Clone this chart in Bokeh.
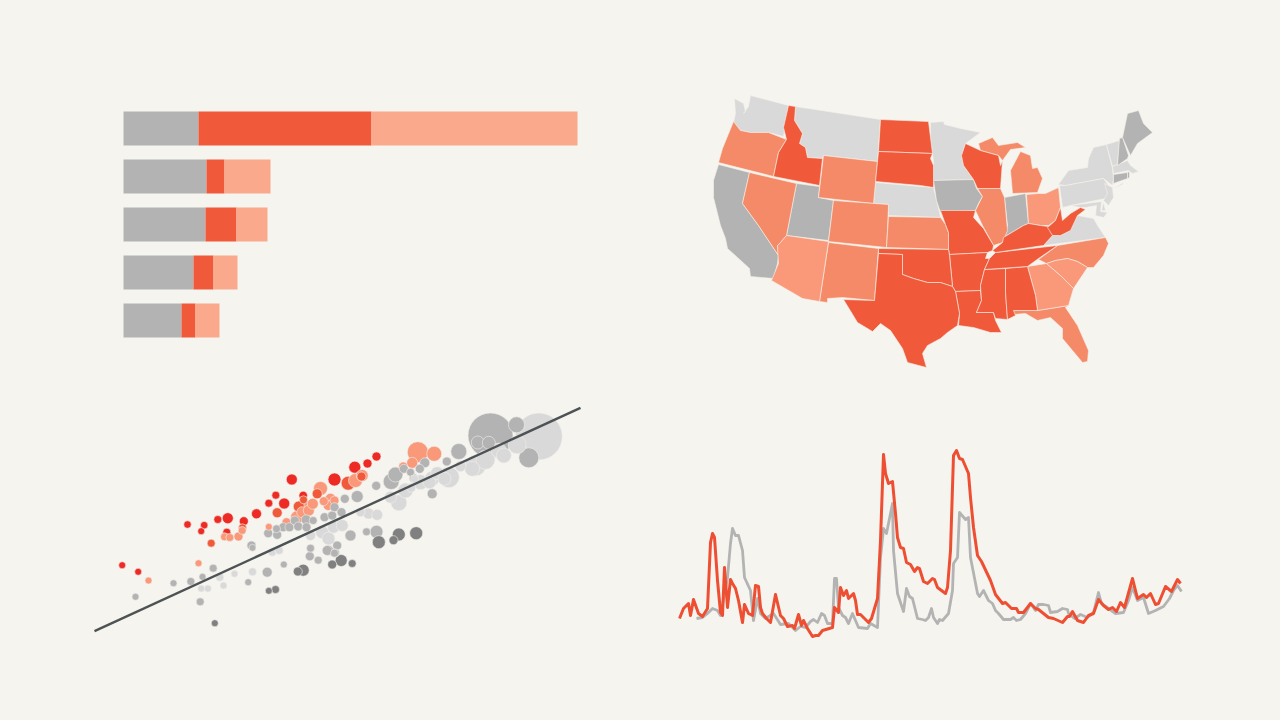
from bokeh.plotting import figure
from bokeh.layouts import column, row
from bokeh.models import Range1d, ColumnDataSource
from bokeh.embed import file_html
from bokeh.resources import INLINE

BG = "#f5f4ef"
GRAY = "#b3b3b3"
RED = "#f05a3a"
PEACH = "#faa98c"
MID = "#f58a68"
LSALMON = "#f9997a"
LIGHT = "#d9d9d9"
DARK = "#808080"
VIVID = "#ee2a24"
LINE_RED = "#ee4f33"
TREND = "#4d5355"

# ---- stacked bars
bar_rank = [1, 2, 3, 4, 5]
bar_gray = [75, 83, 82, 70, 58]
bar_red = [173, 18, 31, 20, 14]
bar_peach = [206, 46, 31, 24, 24]

# ---- map outlines
WA = [(734,98),(743,103),(745,111),(743,113),(748,106),(750,95),(788,105),(783,136),(768,132),(750,132),(740,130),(733,122),(735,113)]
OR = [(733,121),(740,130),(750,132),(768,132),(786,139),(778,152),(773,176),(718,162),(722,148)]
ID = [(788,105),(795,106),(794,120),(802,133),(799,143),(805,147),(807,157),(822,158),(819,185),(773,176),(778,152),(786,139),(783,127)]
MT = [(795,106),(880,119),(877,161),(823,155),(822,158),(807,157),(805,147),(799,143),(802,133),(794,120)]
WY = [(823,155),(877,161),(873,203),(818,197)]
ND = [(880,119),(928,121),(932,153),(878,151)]
SD = [(878,151),(932,153),(930,158),(933,165),(933,187),(920,185),(875,181)]
NE = [(875,182),(920,186),(933,187),(939,212),(940,217),(888,215),(888,204),(873,203)]
NV = [(749,172),(796,183),(786,235),(780,242),(777,245),(778,255),(758,225),(742,203)]
CA = [(718,164),(749,172),(742,203),(758,225),(778,255),(777,263),(773,278),(750,276),(749,268),(737,257),(727,248),(725,238),(720,225),(713,197),(713,180)]
UT = [(796,183),(819,186),(818,197),(833,200),(828,240),(786,235)]
CO = [(833,200),(888,204),(887,230),(886,247),(828,241)]
AZ = [(786,235),(828,241),(819,301),(802,298),(771,280),(778,263),(777,245),(780,242)]
NM = [(828,242),(878,248),(874,300),(842,297),(827,298),(827,302),(819,301)]
TX = [(878,253),(902,254),(902,274),(913,278),(927,282),(940,282),(952,286),(955,291),(959,313),(957,325),(947,332),(940,338),(927,345),(922,353),(926,367),(907,362),(902,348),(890,330),(880,323),(872,331),(857,322),(843,299),(874,300)]
OK = [(878,248),(948,249),(949,255),(952,286),(940,282),(927,282),(913,278),(902,274),(902,254),(878,253)]
KS = [(888,216),(940,217),(945,224),(948,232),(948,249),(886,247)]
IA = [(933,180),(973,179),(976,188),(982,196),(978,203),(975,210),(940,212),(936,200)]
MN = [(930,122),(943,121),(944,124),(960,128),(980,132),(965,143),(962,153),(963,165),(973,179),(933,180),(933,160),(930,140)]
WI = [(965,143),(980,150),(998,155),(1000,165),(1002,160),(1000,188),(977,188),(973,179),(963,165),(961,155)]
MI_N = [(978,143),(992,137),(998,145),(1017,142),(1025,147),(1010,149),(1002,160),(998,155),(980,150)]
MI_S = [(1020,151),(1030,155),(1032,168),(1037,167),(1042,178),(1037,192),(1012,193),(1010,170)]
IL = [(977,188),(1000,188),(1004,197),(1007,230),(1002,242),(993,245),(982,225),(975,210),(982,196)]
IN = [(1004,197),(1025,193),(1028,223),(1023,225),(1003,237),(1007,225)]
OH = [(1026,194),(1038,193),(1045,193),(1058,187),(1060,207),(1055,220),(1048,225),(1040,225),(1028,223)]
KY = [(992,250),(1002,242),(1003,237),(1023,225),(1028,223),(1040,225),(1048,226),(1052,235),(1043,245),(995,252)]
WV = [(1060,207),(1062,220),(1070,213),(1080,207),(1085,209),(1077,215),(1070,230),(1060,235),(1052,235),(1047,227),(1055,220)]
VA = [(1043,245),(1052,235),(1060,235),(1070,225),(1077,215),(1093,218),(1097,225),(1105,237)]
TN = [(995,252),(1057,245),(1038,258),(1027,266),(984,269),(989,258),(992,255)]
NC = [(1057,245),(1105,237),(1108,243),(1103,255),(1093,267),(1087,267),(1077,261),(1067,258),(1055,260),(1046,263),(1038,259)]
SC = [(1046,263),(1055,260),(1067,258),(1077,261),(1087,267),(1073,288),(1060,275)]
GA = [(1027,266),(1046,263),(1060,275),(1073,288),(1068,305),(1037,310),(1035,295)]
AL = [(1005,268),(1027,266),(1035,295),(1037,310),(1013,310),(1015,315),(1007,319),(1005,292)]
MS = [(984,269),(1005,268),(1005,292),(1007,319),(995,318),(993,312),(976,312),(981,300),(980,285)]
LA = [(955,291),(980,290),(981,300),(976,312),(993,312),(995,320),(1001,332),(990,332),(973,327),(958,325),(959,313)]
AR = [(949,254),(987,252),(985,258),(989,258),(984,269),(980,285),(980,290),(955,291),(952,286)]
MO = [(940,210),(975,210),(973,217),(983,228),(993,245),(992,250),(987,252),(949,254),(948,249),(948,232),(945,224)]
FL = [(1013,310),(1037,310),(1068,305),(1065,307),(1077,325),(1088,350),(1087,361),(1082,362),(1072,350),(1062,338),(1062,328),(1050,317),(1037,320),(1025,313),(1013,314)]
NY = [(1058,184),(1068,170),(1087,167),(1088,158),(1093,147),(1106,144),(1112,168),(1113,178),(1112,185),(1103,178),(1065,185)]
NY_LI = [(1113,188),(1123,182),(1122,184)]
VT = [(1106,144),(1119,140),(1117,164),(1112,166)]
NH = [(1119,138),(1122,137),(1128,155),(1127,158),(1117,165)]
ME = [(1122,137),(1127,113),(1138,110),(1143,123),(1152,132),(1137,143),(1130,155)]
MA = [(1112,166),(1127,160),(1130,165),(1138,171),(1132,173),(1128,170),(1113,173)]
CT = [(1113,174),(1127,172),(1127,178),(1113,183)]
RI = [(1127,172),(1129,171),(1129,177),(1127,178)]
PA = [(1059,185),(1065,185),(1103,178),(1110,188),(1105,198),(1070,205),(1062,207)]
NJ = [(1104,183),(1112,187),(1113,197),(1108,205),(1103,200),(1107,193)]
DE = [(1103,202),(1105,210),(1101,210)]
MD = [(1070,205),(1101,201),(1100,211),(1107,212),(1103,217),(1095,215),(1096,205),(1085,207),(1080,207)]

states_light = [WA, MT, NE, MN, NY, NY_LI, VT, MA, PA, NJ, DE, MD, VA]
states_gray = [CA, UT, IA, IN, ME, NH, CT, RI]
states_red = [ID, ND, SD, WI, MO, AR, LA, MS, AL, TN, KY, WV, OK, TX]
states_mid = [OR, NV, WY, CO, NM, KS, IL, MI_N, MI_S, NC, FL]
states_salmon = [AZ, OH, GA, SC]

# ---- scatter: x, y, diameter by group
vivid_x = [121.7,137.7,187,203.7,200.7,217.3,227.3,243.3,226.3,256,268.3,275.3,283.7,291.3,302.7,334,354.3,367,376]
vivid_y = [564.7,571.3,524,524.7,530.7,519,517.7,520.7,531.7,513.3,502.7,494.7,503,479,495,479,466.7,463,456]
vivid_d = [6,6,6.5,6.5,6,7,10,8,7,9,7,7,10,10,7.5,12,11,8,8]

orange_x = [210.7,276.7,298.3,303,242,316.7,347.7,361]
orange_y = [542.7,512.3,506,499.3,527.3,493.3,482.7,476]
orange_d = [7,9,10,7,7,9,13,8]

salmon_x = [148,198,224,229.3,238,241.7,268.3,286,296.7,301.7,305,308.3,312.3,320,323.3,327.7,330,334,355,361.7,417.3,433.7,411.7,402.7]
salmon_y = [580,562.7,536.3,537,536,530,526.3,521.7,516.7,511.7,506.7,510,503.3,488,500.7,505,498.3,500,480,475,451.7,453.3,462.3,466]
salmon_d = [6,6,7,7,8,7,6,8,12,10,12,10,10,13,8,9,10,8,13,11,20,14,10,8]

gray_x = [135,173,190.3,202,212.7,199.7,247.7,266.7,283.3,251,252,267.7,276.7,276,282.7,289,294.3,297.7,306,305.7,312.7,324,331.7,334,341,310,309.3,317.7,328.3,335,336.7,344.3,356.7,375.7,390.7,395,403.3,410,419.3,424.3,413.3,446.3,458.3,431.7,490,516,528.3,350,366,376,326.7,334,477.3,488.3]
gray_y = [596.3,582.7,581,576.3,567.7,601.3,581.7,571.7,564,545,547.3,532.7,534.3,528.3,526.7,526.7,520,526,526.7,519.3,520,516.7,515,506.7,511.7,547.7,555.7,559.7,550,552.3,545,498.3,496,485.3,481,474,468.3,471.7,468.3,462.3,477.7,461,451,493.3,435,424.3,457.3,535,531.3,531.3,550,552.7,442,442.3]
gray_d = [6,6,7,6,7,7,6,9,6,8,6,8,8,7,8,8,8,8,8,9,7,8,8,8,8,7,8,7,9,7,8,8,11,8,15,14,8,7,8,9,8,8,15,9,44,15,19,10,7,12,9,7,12,12]

dark_x = [214.3,268.3,275,297.3,302.7,331.7,340.7,351.7,378.3,393,398.3,415.7]
dark_y = [622.7,590.3,589,571,569.7,564,560,563,541.7,539.7,534,532.7]
dark_d = [6,6,7,8,11,8,11,7,12,8,12,12]

light_x = [200.7,207.3,223,219.3,234,252,271.7,278.7,310,321.7,328,333,341.7,360,368,376.7,390,398.3,405,410.7,420,429,431.7,436.7,444,448.3,460,471.7,475,485,498.3,503.3,516.7,538.3,414]
light_y = [588,588,585,576.7,573.3,571.3,551.7,550,535,531.7,538,526.7,525,511.7,513,514.3,496.7,502.3,490,487.3,481.7,481.7,478,472.7,478.3,476.7,465.7,468.3,465,459.3,450,455,444.3,436,478.3]
light_d = [6,6,6,7,6,7,7,7,9,12,12,11,11,8,10,10,11,15,14,8,14,12,14,12,12,20,10,14,20,18,14,14,17,46,7]

trend_x = [94, 580]
trend_y = [630.7, 407.3]

# ---- time series
red_x = [679,683,688,690,693,698,702,707,710,712,714,717,720,722,724,727,730,732,735,738,742,744,748,752,755,758,760,762,766,770,775,780,783,787,792,794,798,801,803,807,812,815,818,822,832,834,838,840,843,846,848,853,855,857,860,865,868,871,877,880,883,885,888,892,895,897,900,903,906,910,914,917,919,923,927,932,934,937,945,947,950,953,956,959,962,968,970,973,977,981,990,995,1002,1005,1011,1016,1018,1023,1030,1035,1038,1048,1053,1062,1067,1069,1072,1077,1083,1088,1093,1098,1103,1108,1112,1116,1120,1124,1132,1137,1143,1146,1150,1155,1158,1165,1171,1177,1180]
red_y = [618,608,603,615,599,613,616,608,542,533,537,580,612,615,567,607,579,583,588,600,622,604,613,615,585,586,607,613,618,622,594,615,618,626,625,628,614,625,620,628,636,635,635,630,627,607,612,587,595,590,598,593,600,614,614,619,622,618,598,540,454,473,483,481,513,537,547,548,562,564,571,567,568,581,583,578,579,587,593,587,550,455,450,458,459,473,497,527,555,561,580,594,603,602,608,608,612,612,603,608,609,617,618,622,616,616,611,620,622,615,613,599,605,609,607,611,602,607,578,598,594,597,593,604,603,586,591,579,583]
gray_line_x = [696,702,707,712,717,720,727,730,732,735,738,742,744,750,753,757,760,765,773,780,788,795,800,805,810,813,817,821,824,827,832,834,836,838,842,845,848,852,855,858,867,870,877,880,883,886,892,893,897,903,906,909,912,917,922,925,928,931,933,937,939,942,948,952,953,957,959,965,968,970,977,979,983,988,992,995,998,1003,1010,1013,1016,1020,1025,1030,1035,1038,1043,1048,1050,1057,1062,1067,1068,1074,1080,1087,1093,1098,1101,1108,1115,1123,1128,1132,1137,1143,1148,1155,1163,1169,1173,1177,1181]
gray_line_y = [618,617,613,608,610,615,577,543,528,535,535,550,577,590,620,598,613,618,613,624,623,630,626,627,621,619,622,613,615,623,623,578,578,607,615,617,623,613,620,627,628,623,627,557,528,533,503,550,593,611,588,596,598,618,619,620,617,608,617,623,619,620,613,590,563,557,512,519,517,557,593,596,590,600,603,610,613,619,619,617,620,619,613,603,610,604,604,605,612,611,608,609,613,618,614,617,612,592,603,608,613,612,600,587,600,597,613,610,606,598,590,585,591]


def panel(h, x0, x1, y0, y1):
    p = figure(width=640, height=h, output_backend="svg", toolbar_location=None,
               x_range=Range1d(x0, x1), y_range=Range1d(y0, y1),
               background_fill_color=BG, border_fill_color=BG,
               min_border=0, outline_line_color=None)
    p.axis.visible = False
    p.grid.visible = False
    return p


TOP_H, BOTTOM_H = 385, 335

# stacked bars: value 0 sits at the left end of the bars
bars = panel(TOP_H, -123, 517, 1 + 257 / 48, 1 - 128 / 48)
left = [0] * len(bar_rank)
for vals, col in ((bar_gray, GRAY), (bar_red, RED), (bar_peach, PEACH)):
    right = [a + b for a, b in zip(left, vals)]
    bars.hbar(y=bar_rank, left=left, right=right, height=34 / 48, fill_color=col, line_color=None)
    left = right

# map
usmap = panel(TOP_H, 640, 1280, TOP_H, 0)
for group, col in ((states_light, LIGHT), (states_gray, GRAY), (states_mid, MID),
                   (states_salmon, LSALMON), (states_red, RED)):
    usmap.patches(xs=[[v[0] for v in s] for s in group], ys=[[v[1] for v in s] for s in group],
                  fill_color=col, line_color="#f7f1ea", line_width=0.6)

# bubbles, largest first
scatter = panel(BOTTOM_H, 0, 640, 720, TOP_H)
xs, ys, ds, cs = [], [], [], []
for gx, gy, gd, col in ((vivid_x, vivid_y, vivid_d, VIVID), (orange_x, orange_y, orange_d, RED),
                        (salmon_x, salmon_y, salmon_d, LSALMON), (gray_x, gray_y, gray_d, GRAY),
                        (dark_x, dark_y, dark_d, DARK), (light_x, light_y, light_d, LIGHT)):
    xs += gx; ys += gy; ds += gd; cs += [col] * len(gx)
order = sorted(range(len(xs)), key=lambda i: -ds[i])
src = ColumnDataSource(dict(x=[xs[i] for i in order], y=[ys[i] for i in order],
                            s=[ds[i] + 1 for i in order], c=[cs[i] for i in order]))
scatter.scatter("x", "y", size="s", fill_color="c", line_color="#f1f0ec", line_width=0.6, source=src)
scatter.line(trend_x, trend_y, line_color=TREND, line_width=2.4)

# lines
lines = panel(BOTTOM_H, 640, 1280, 720, TOP_H)
lines.line(gray_line_x, gray_line_y, line_color=GRAY, line_width=2.8, line_join="round")
lines.line(red_x, red_y, line_color=LINE_RED, line_width=3, line_join="round")

page = column(row(bars, usmap), row(scatter, lines))
html = file_html(page, INLINE)
html = html.replace("</head>", "<style>html,body{background:%s}</style></head>" % BG, 1)
open("out.html", "w").write(html)
